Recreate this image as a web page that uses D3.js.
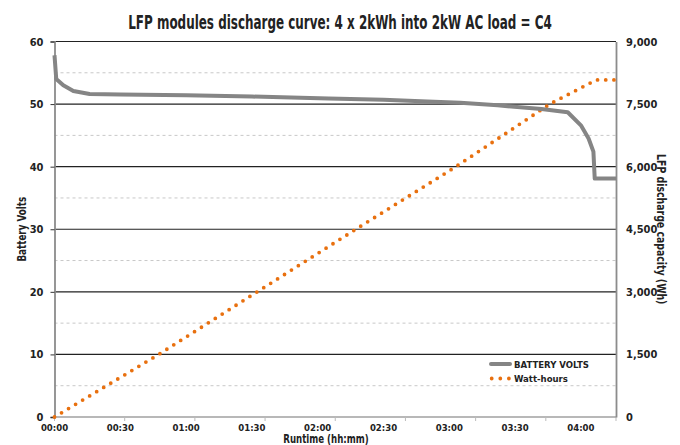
<!DOCTYPE html>
<html>
<head>
<meta charset="utf-8">
<script src="https://cdn.jsdelivr.net/npm/d3@7"></script>
<style>
  body { margin: 0; background: #fff; }
  text { font-family: 'Liberation Sans Narrow', 'DejaVu Sans Condensed', sans-serif; font-weight: bold; fill: #222; }
</style>
</head>
<body>
<div class="canvas"></div>
<script>
// data (time in minutes)
const timeLabels = ['00:00', '00:30', '01:00', '01:30', '02:00', '02:30', '03:00', '03:30', '04:00'];
const voltTime = [0, 0.8, 4, 8.6, 16, 30, 60, 90, 125, 150, 170, 185, 202, 222, 234, 240, 243.5, 245.7, 246.3, 256];
const voltValues = [57.8, 54.0, 53.0, 52.1, 51.6, 51.55, 51.4, 51.2, 50.9, 50.7, 50.4, 50.2, 49.8, 49.2, 48.7, 46.6, 44.5, 42.4, 38.1, 38.1];
const whTime = [0, 47.5, 92.4, 137.4, 183, 225.8, 247, 256];
const whValues = [0, 1500, 3000, 4500, 6000, 7500, 8080, 8080];
const voltTicks = [0, 10, 20, 30, 40, 50, 60];
const voltMinor = [5, 15, 25, 35, 45, 55];
const whTicks = [0, 1500, 3000, 4500, 6000, 7500, 9000];

const width = 680;
const height = 445;
const margin = { top: 41.5, right: 64, bottom: 28, left: 54.5 };
const graphWidth = width - margin.left - margin.right;
const graphHeight = height - margin.top - margin.bottom;

const svg = d3.select('.canvas')
    .append('svg')
    .attr('width', width)
    .attr('height', height);

const graph = svg.append('g')
    .attr('transform', `translate(${margin.left}, ${margin.top})`);

// scales
const x = d3.scaleLinear().domain([0, 256]).range([0, graphWidth]);
const yV = d3.scaleLinear().domain([0, 60]).range([graphHeight, 0]);
const yW = d3.scaleLinear().domain([0, 9000]).range([graphHeight, 0]);

const parseMin = s => +s.split(':')[0] * 60 + +s.split(':')[1];

// gridlines
graph.selectAll('.minor')
    .data(voltMinor)
    .enter().append('line')
    .attr('x1', 0).attr('x2', graphWidth)
    .attr('y1', d => yV(d)).attr('y2', d => yV(d))
    .attr('stroke', '#c8c8c8')
    .attr('stroke-dasharray', '3,3');

graph.selectAll('.major')
    .data(voltTicks.filter(d => d > 0))
    .enter().append('line')
    .attr('x1', 0).attr('x2', graphWidth)
    .attr('y1', d => yV(d)).attr('y2', d => yV(d))
    .attr('stroke', '#222')
    .attr('stroke-width', 1.2);

// x axis line + ticks (8 equal divisions)
graph.append('line')
    .attr('x1', 0).attr('x2', graphWidth)
    .attr('y1', graphHeight).attr('y2', graphHeight)
    .attr('stroke', '#a0a0a0')
    .attr('stroke-width', 1.5);

graph.selectAll('.xtick')
    .data(d3.range(9))
    .enter().append('line')
    .attr('x1', d => d * graphWidth / 8).attr('x2', d => d * graphWidth / 8)
    .attr('y1', graphHeight).attr('y2', graphHeight + 4)
    .attr('stroke', '#bbb');

graph.selectAll('.xlabel')
    .data(timeLabels)
    .enter().append('text')
    .attr('x', d => x(parseMin(d)))
    .attr('y', graphHeight + 14)
    .attr('text-anchor', 'middle')
    .attr('font-size', 9.5)
    .text(d => d);

// left axis
const yAxisGroup = graph.append('g')
    .call(d3.axisLeft(yV).tickValues(voltTicks).tickSize(4).tickPadding(7));
yAxisGroup.select('.domain').attr('stroke', '#8c8c8c').attr('stroke-width', 1.8);
yAxisGroup.selectAll('line').attr('stroke', '#333');
yAxisGroup.selectAll('text').attr('font-size', 11).attr('font-family', null).attr('fill', '#222');

// right axis
const yAxisRight = graph.append('g')
    .attr('transform', `translate(${graphWidth}, 0)`)
    .call(d3.axisRight(yW).tickValues(whTicks).tickSize(0).tickPadding(10).tickFormat(d3.format(',')));
yAxisRight.select('.domain').attr('stroke', '#8c8c8c').attr('stroke-width', 1.8);
yAxisRight.selectAll('text').attr('font-size', 11).attr('font-family', null).attr('fill', '#222');

// series
const voltLine = d3.line()
    .x((d, i) => x(voltTime[i]))
    .y(d => yV(d));

const whLine = d3.line()
    .x((d, i) => x(whTime[i]))
    .y(d => yW(d));

graph.append('path')
    .datum(whValues)
    .attr('d', whLine)
    .attr('fill', 'none')
    .attr('stroke', '#e8700f')
    .attr('stroke-width', 3.8)
    .attr('stroke-linecap', 'round')
    .attr('stroke-dasharray', '0 8.2');

graph.append('path')
    .datum(voltValues)
    .attr('d', voltLine)
    .attr('fill', 'none')
    .attr('stroke', '#858585')
    .attr('stroke-width', 4)
    .attr('stroke-linejoin', 'round');

// legend
const legend = svg.append('g');
legend.append('line')
    .attr('x1', 491).attr('x2', 510).attr('y1', 364).attr('y2', 364)
    .attr('stroke', '#858585').attr('stroke-width', 4).attr('stroke-linecap', 'round');
legend.append('text')
    .attr('x', 514).attr('y', 367.5)
    .attr('font-size', 9.5)
    .text('BATTERY VOLTS');
legend.append('line')
    .attr('x1', 491.7).attr('x2', 509.5).attr('y1', 378.5).attr('y2', 378.5)
    .attr('stroke', '#e8700f').attr('stroke-width', 3.8)
    .attr('stroke-linecap', 'round').attr('stroke-dasharray', '0 8.6');
legend.append('text')
    .attr('x', 514).attr('y', 382)
    .attr('font-size', 9.5)
    .text('Watt-hours');

// titles (horizontally squeezed to mimic the narrow face)
svg.append('text')
    .attr('transform', 'translate(340, 29) scale(0.7, 1)')
    .attr('text-anchor', 'middle')
    .attr('font-size', 19)
    .text('LFP modules discharge curve: 4 x 2kWh into 2kW AC load = C4');

svg.append('text')
    .attr('transform', 'translate(326, 443) scale(0.8, 1)')
    .attr('text-anchor', 'middle')
    .attr('font-size', 12)
    .text('Runtime (hh:mm)');

svg.append('text')
    .attr('transform', `translate(26, ${margin.top + graphHeight / 2}) rotate(-90) scale(0.75, 1)`)
    .attr('text-anchor', 'middle')
    .attr('font-size', 13)
    .text('Battery Volts');

svg.append('text')
    .attr('transform', `translate(657, ${margin.top + graphHeight / 2}) rotate(90) scale(0.8, 1)`)
    .attr('text-anchor', 'middle')
    .attr('font-size', 13)
    .text('LFP discharge capacity (Wh)');
</script>
</body>
</html>
